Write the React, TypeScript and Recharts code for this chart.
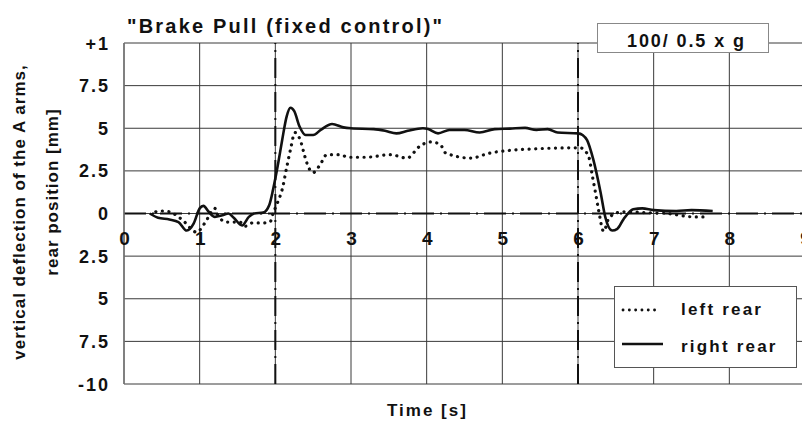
import React from 'react';
import { LineChart, Line, XAxis, YAxis, CartesianGrid, ReferenceLine, Legend } from 'recharts';

const title = '"Brake Pull (fixed control)"';
const boxText = '100/ 0.5 x g';
const yLabel1 = 'vertical deflection of the A arms,';
const yLabel2 = 'rear position [mm]';
const xLabel = 'Time [s]';

const xTicks = [0, 1, 2, 3, 4, 5, 6, 7, 8, 9];
const yTicks = [-10, -7.5, -5, -2.5, 0, 2.5, 5, 7.5, 10];
const yTickLabels = ['-10', '7.5', '5', '2.5', '0', '2.5', '5', '7.5', '+1'];
const markerTimes = [2, 6];

const rightT = [0.34, 0.45, 0.6, 0.72, 0.83, 0.92, 1.0, 1.05, 1.12, 1.2, 1.3, 1.38, 1.45, 1.56, 1.65, 1.72, 1.84, 1.92, 1.97, 2.04, 2.09, 2.15, 2.2, 2.25, 2.32, 2.4, 2.5, 2.6, 2.75, 2.9, 3.0, 3.3, 3.45, 3.6, 3.75, 3.95, 4.02, 4.15, 4.3, 4.5, 4.7, 4.9, 5.1, 5.3, 5.45, 5.6, 5.73, 6.0, 6.06, 6.12, 6.2, 6.3, 6.36, 6.45, 6.52, 6.6, 6.73, 6.85, 7.0, 7.3, 7.5, 7.78];
const rightV = [0, -0.25, -0.35, -0.5, -1.0, -0.6, 0.3, 0.45, 0.1, -0.2, -0.1, 0.0, -0.25, -0.7, -0.2, 0, 0.05, 0.5, 1.4, 3.0, 4.3, 5.7, 6.2, 6.0, 5.1, 4.6, 4.6, 4.9, 5.25, 5.05, 5.0, 4.95, 4.85, 4.7, 4.85, 5.0, 4.95, 4.7, 4.9, 4.9, 4.75, 4.95, 4.98, 5.02, 4.9, 4.95, 4.75, 4.7, 4.6, 4.3, 3.2, 1.2, -0.2, -1.0, -0.9, -0.35, 0.25, 0.3, 0.2, 0.15, 0.2, 0.15];

const leftT = [0.42, 0.48, 0.6, 0.72, 0.8, 0.96, 1.07, 1.2, 1.25, 1.36, 1.53, 1.6, 1.7, 1.84, 1.93, 1.97, 2.03, 2.09, 2.15, 2.2, 2.26, 2.33, 2.39, 2.43, 2.5, 2.59, 2.68, 2.86, 2.96, 3.2, 3.52, 3.74, 3.91, 4.05, 4.18, 4.25, 4.58, 4.84, 5.1, 5.46, 5.9, 6.03, 6.14, 6.19, 6.23, 6.27, 6.34, 6.4, 6.52, 6.65, 6.9, 7.18, 7.53, 7.7];
const leftV = [0.1, 0.15, 0.1, -0.2, -0.5, -1.1, -0.55, 0.3, -0.2, -0.5, -0.5, -0.75, -0.55, -0.55, -0.5, 0.0, 0.65, 1.4, 2.7, 3.75, 4.75, 4.3, 3.35, 2.8, 2.4, 2.85, 3.45, 3.45, 3.3, 3.3, 3.45, 3.25, 3.95, 4.2, 4.05, 3.55, 3.25, 3.55, 3.7, 3.8, 3.85, 3.85, 3.35, 2.2, 1.25, 0.25, -1.05, -0.35, 0.05, 0.1, 0.05, 0.0, -0.2, -0.2];

const rightData = rightT.map((t, i) => ({ t, v: rightV[i] }));
const leftData = leftT.map((t, i) => ({ t, v: leftV[i] }));

const FONT = '"Liberation Sans", Arial, sans-serif';

const XTick = (props: any) => {
  const { x, y, payload } = props;
  return (
    <text x={x + 0.5} y={y - 139} textAnchor="middle" fontFamily={FONT} fontWeight="bold" fontSize={19} fill="#111">
      {payload.value}
    </text>
  );
};

const YTick = (props: any) => {
  const { x, y, payload } = props;
  const idx = yTicks.indexOf(payload.value);
  return (
    <text x={x + 2} y={y + 6.5} textAnchor="end" fontFamily={FONT} fontWeight="bold" fontSize={18} letterSpacing={2} fill="#111">
      {idx >= 0 ? yTickLabels[idx] : payload.value}
    </text>
  );
};

const LegendContent = () => (
  <svg width={183} height={82} style={{ display: 'block' }}>
    <rect x={0.5} y={0.5} width={182} height={81} fill="#fff" stroke="#555" strokeWidth={1} />
    <line x1={9} y1={24} x2={46} y2={24} stroke="#111" strokeWidth={2.8} strokeDasharray="0.1 6.2" strokeLinecap="round" />
    <text x={67} y={29} fontFamily={FONT} fontWeight="bold" fontSize={17} letterSpacing={2.2} fill="#111">left rear</text>
    <line x1={8} y1={58} x2={49} y2={58} stroke="#111" strokeWidth={2.5} />
    <text x={67} y={66} fontFamily={FONT} fontWeight="bold" fontSize={17} letterSpacing={2.2} fill="#111">right rear</text>
  </svg>
);

export default function App() {
  return (
    <div style={{ position: 'absolute', left: 0, top: 0, width: 802, height: 421, overflow: 'hidden', background: '#fff' }}>
      <LineChart width={830} height={421} margin={{ top: 43, right: 25, bottom: 7, left: 0 }}>
        <CartesianGrid stroke="#3a3a3a" strokeWidth={1} />
        <XAxis
          dataKey="t"
          type="number"
          domain={[0, 9]}
          ticks={xTicks}
          interval={0}
          allowDataOverflow
          height={30}
          tickSize={0}
          tickMargin={0}
          axisLine={false}
          tick={<XTick />}
        />
        <YAxis
          type="number"
          domain={[-10, 10]}
          ticks={yTicks}
          interval={0}
          width={124}
          tickSize={0}
          tickMargin={16}
          axisLine={{ stroke: '#777', strokeWidth: 1.5 }}
          tickLine={false}
          tick={<YTick />}
        />
        <ReferenceLine y={0} stroke="#111" strokeWidth={2} strokeDasharray="22 6 2 6" />
        {markerTimes.map((m) => (
          <ReferenceLine key={m} x={m} stroke="#111" strokeWidth={2} strokeDasharray="20 6 2 6" />
        ))}
        <Line
          data={leftData}
          dataKey="v"
          name="left rear"
          type="monotone"
          stroke="#111"
          strokeWidth={3.2}
          strokeDasharray="0.1 6.5"
          strokeLinecap="round"
          dot={false}
          isAnimationActive={false}
        />
        <Line
          data={rightData}
          dataKey="v"
          name="right rear"
          type="monotone"
          stroke="#111"
          strokeWidth={2.6}
          dot={false}
          isAnimationActive={false}
        />
        <Legend
          layout="vertical"
          align="center"
          verticalAlign="middle"
          content={<LegendContent />}
          wrapperStyle={{ position: 'absolute', left: 614, top: 286, width: 183, height: 82 }}
        />
      </LineChart>
      <svg width={802} height={421} style={{ position: 'absolute', left: 0, top: 0, pointerEvents: 'none' }}>
        <text x={127} y={33} fontFamily={FONT} fontWeight="bold" fontSize={20} letterSpacing={2.2} fill="#111">{title}</text>
        <rect x={597.5} y={23.5} width={171} height={29} fill="#fff" stroke="#888" strokeWidth={1} />
        <text x={627} y={47} fontFamily={FONT} fontWeight="bold" fontSize={18} letterSpacing={1.9} fill="#111">{boxText}</text>
        <text transform="translate(25,212) rotate(-90)" textAnchor="middle" fontFamily={FONT} fontWeight="bold" fontSize={17} letterSpacing={1} fill="#111">{yLabel1}</text>
        <text transform="translate(58,192) rotate(-90)" textAnchor="middle" fontFamily={FONT} fontWeight="bold" fontSize={17} letterSpacing={1} fill="#111">{yLabel2}</text>
        <text x={387} y={416} fontFamily={FONT} fontWeight="bold" fontSize={17} letterSpacing={2} fill="#111">{xLabel}</text>
      </svg>
    </div>
  );
}
